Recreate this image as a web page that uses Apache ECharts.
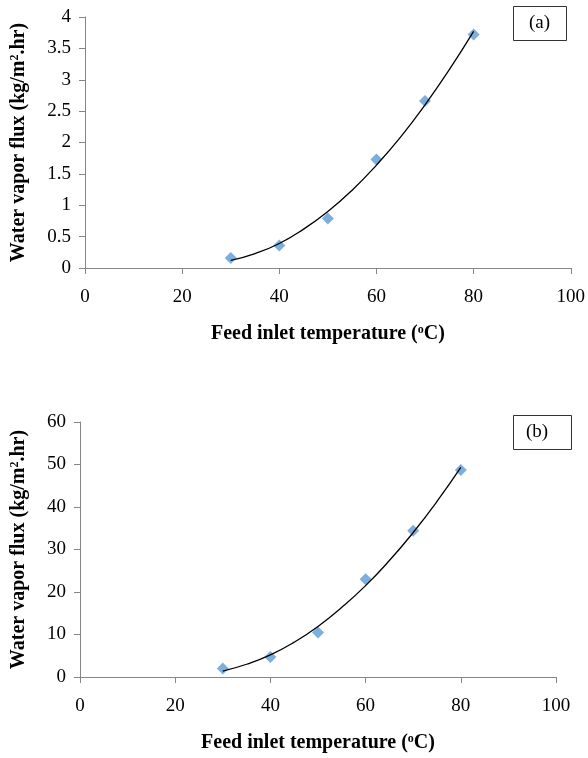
<!doctype html>
<html>
<head>
    <meta charset="utf-8"/>
    <title>Water vapor flux</title>
    <script src="https://cdn.jsdelivr.net/npm/echarts@6/dist/echarts.min.js"></script>
    <style>
        html, body { margin: 0; padding: 0; background: #fff; }
    </style>
</head>
<body>
<div id="main" style="width:588px;height:758px;"></div>
<script>
// measured points (diamonds)
var temps = [30, 40, 50, 60, 70, 80];
var fluxA = [0.16, 0.36, 0.79, 1.73, 2.66, 3.72];
var fluxB = [2.0, 4.7, 10.5, 23.0, 34.4, 48.7];

// trend curve
var trendTemps = [30, 35, 40, 45, 50, 55, 60, 65, 70, 75, 80];
var trendA = [0.12, 0.23, 0.39, 0.62, 0.90, 1.24, 1.64, 2.09, 2.60, 3.16, 3.77];
var trendB = [1.4, 3.0, 5.2, 8.2, 11.9, 16.4, 21.5, 27.4, 34.0, 41.3, 49.3];

var panelLabels = ['(a)', '(b)'];
var xTitle = 'Feed inlet temperature ({sup|o}C)';
var yTitle = 'Water vapor flux (kg/m{sup|2}.hr)';

var serif = '"Liberation Serif", "Times New Roman", serif';
var axisGrey = '#868686';

function pairs(xs, ys) {
    return xs.map(function (x, i) { return [x, ys[i]]; });
}

var nameStyle = {
    fontFamily: serif,
    fontWeight: 'bold',
    fontSize: 20,
    color: '#000',
    rich: {
        sup: { fontFamily: serif, fontWeight: 'bold', fontSize: 12, verticalAlign: 'top', padding: [0, 0, 8, 0] }
    }
};

function xAxisCfg(idx) {
    return {
        type: 'value', gridIndex: idx, min: 0, max: 100, interval: 20,
        name: xTitle, nameLocation: 'middle', nameGap: 56, nameTextStyle: nameStyle,
        axisLine: { lineStyle: { color: axisGrey } },
        axisTick: { show: true, inside: false, length: 6, lineStyle: { color: axisGrey } },
        axisLabel: { fontFamily: serif, fontSize: 19, color: '#000', margin: 20 },
        splitLine: { show: false }
    };
}

function yAxisCfg(idx, max, step, gap) {
    return {
        type: 'value', gridIndex: idx, min: 0, max: max, interval: step,
        name: yTitle, nameLocation: 'middle', nameRotate: 90, nameGap: gap, nameTextStyle: nameStyle,
        axisLine: { show: true, lineStyle: { color: axisGrey } },
        axisTick: { show: true, inside: false, length: 6, lineStyle: { color: axisGrey } },
        axisLabel: { fontFamily: serif, fontSize: 19, color: '#000', margin: 14 },
        splitLine: { show: false }
    };
}

var myChart = echarts.init(document.getElementById('main'));

var option = {
    backgroundColor: '#fff',
    animation: false,
    title: [
        { text: panelLabels[0], left: 513, top: 6, padding: [8, 17, 8, 16], borderColor: '#333', borderWidth: 1,
          textStyle: { fontFamily: serif, fontWeight: 'normal', fontSize: 19, color: '#000' } },
        { text: panelLabels[1], left: 513, top: 415, padding: [8, 24, 8, 13], borderColor: '#333', borderWidth: 1,
          textStyle: { fontFamily: serif, fontWeight: 'normal', fontSize: 19, color: '#000' } }
    ],
    grid: [
        { left: 85, top: 17, width: 487, height: 251 },
        { left: 80, top: 422, width: 476, height: 255 }
    ],
    xAxis: [xAxisCfg(0), xAxisCfg(1)],
    yAxis: [yAxisCfg(0, 4, 0.5, 56), yAxisCfg(1, 60, 10, 51)],
    series: [
        { type: 'line', xAxisIndex: 0, yAxisIndex: 0, data: pairs(trendTemps, trendA), smooth: true,
          showSymbol: false, lineStyle: { color: '#000', width: 1.3 }, z: 3 },
        { type: 'scatter', xAxisIndex: 0, yAxisIndex: 0, data: pairs(temps, fluxA), symbol: 'diamond',
          symbolSize: 12, itemStyle: { color: '#5B9BD5' }, z: 2 },
        { type: 'line', xAxisIndex: 1, yAxisIndex: 1, data: pairs(trendTemps, trendB), smooth: true,
          showSymbol: false, lineStyle: { color: '#000', width: 1.3 }, z: 3 },
        { type: 'scatter', xAxisIndex: 1, yAxisIndex: 1, data: pairs(temps, fluxB), symbol: 'diamond',
          symbolSize: 12, itemStyle: { color: '#5B9BD5' }, z: 2 }
    ]
};

myChart.setOption(option);
</script>
</body>
</html>
